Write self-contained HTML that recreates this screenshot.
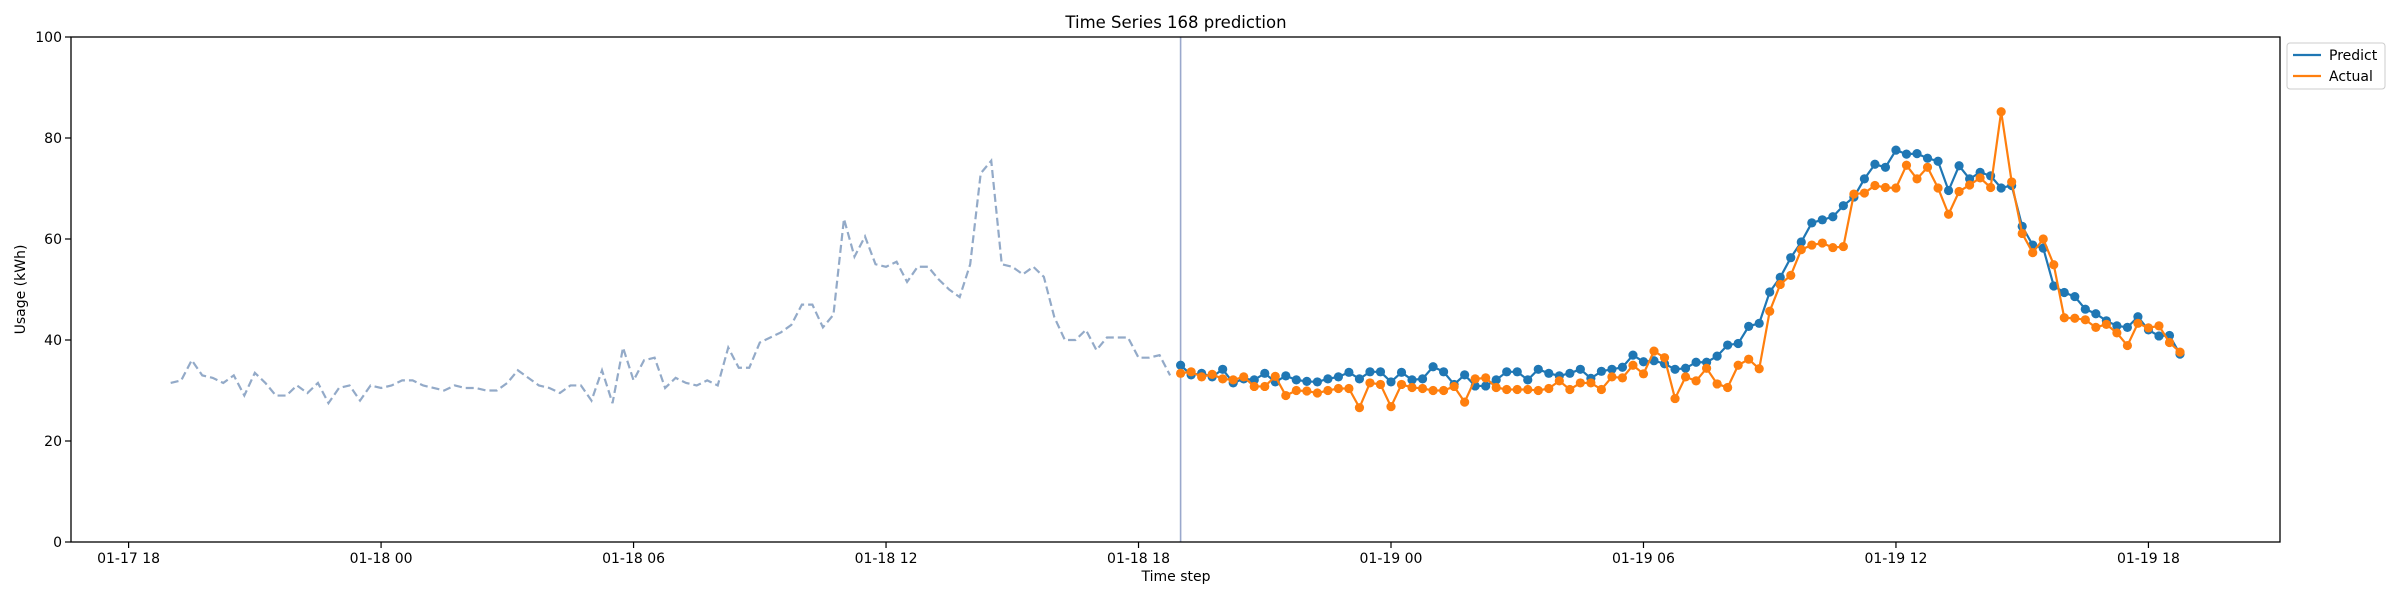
<!DOCTYPE html>
<html><head><meta charset="utf-8"><style>
html,body{margin:0;padding:0;background:#fff;}
svg{display:block;font-family:"DejaVu Sans","Liberation Sans",sans-serif;}
</style></head><body>
<svg id="chart" width="2400" height="600" viewBox="0 0 2400 600" xmlns="http://www.w3.org/2000/svg">
<rect width="2400" height="600" fill="#fff"/>
<text x="1176" y="28" font-size="16.5" text-anchor="middle" fill="#000">Time Series 168 prediction</text>
<g id="grid"></g>
<g id="marks"></g>
<rect x="71" y="37" width="2209" height="505" fill="none" stroke="#000" stroke-width="1.3"/>
<text transform="translate(25,289.5) rotate(-90)" font-size="14" text-anchor="middle">Usage (kWh)</text>
<text x="1176" y="581" font-size="14" text-anchor="middle">Time step</text>
<g>
<rect x="2287" y="43" width="98" height="46" rx="3" fill="#fff" stroke="#ccc"/>
<line x1="2293" y1="55" x2="2321" y2="55" stroke="#1f77b4" stroke-width="2.3"/>
<text x="2329" y="60" font-size="14">Predict</text>
<line x1="2293" y1="76" x2="2321" y2="76" stroke="#ff7f0e" stroke-width="2.3"/>
<text x="2329" y="81" font-size="14">Actual</text>
</g>
</svg>
<script>
const yTicks = [0, 20, 40, 60, 80, 100];
const xTickLabels = ["01-17 18","01-18 00","01-18 06","01-18 12","01-18 18","01-19 00","01-19 06","01-19 12","01-19 18"];
const xTickHours = [0, 6, 12, 18, 24, 30, 36, 42, 48];
const historyStartHour = 1;
const predictStartHour = 25;
const stepHours = 0.25;
const history = [31.5,32,36,33,32.5,31.5,33,29,33.5,31.5,29,29,31,29.5,31.5,27.5,30.5,31,28,31,30.5,31,32,32,31,30.5,30,31,30.5,30.5,30,30,31.5,34,32.5,31,30.5,29.5,31,31,28,34,27.5,38.5,32,36,36.5,30.5,32.5,31.5,31,32,31,38.5,34.5,34.5,39.5,40.5,41.5,43,47,47,42.5,45,64,56.5,60.5,55,54.5,55.5,51.5,54.5,54.5,52,50,48.5,55,73,75.5,55,54.5,53,54.5,52.5,44.5,40,40,42,38,40.5,40.5,40.5,36.5,36.5,37,33];
const predict = [35.0,33.1,33.4,32.7,34.2,31.5,32.3,32.1,33.4,31.7,32.9,32.1,31.8,31.7,32.3,32.7,33.6,32.3,33.7,33.7,31.7,33.6,32.1,32.3,34.7,33.7,31.2,33.1,30.9,30.9,32.1,33.7,33.7,32.1,34.2,33.4,32.9,33.4,34.2,32.4,33.8,34.2,34.6,37.0,35.7,35.9,35.3,34.2,34.4,35.6,35.6,36.8,39.0,39.3,42.7,43.3,49.5,52.4,56.3,59.4,63.2,63.8,64.4,66.6,68.3,71.9,74.8,74.2,77.6,76.8,76.9,76.0,75.4,69.6,74.5,71.9,73.2,72.5,70.1,70.6,62.5,58.8,58.2,50.7,49.4,48.6,46.1,45.2,43.8,42.8,42.5,44.6,42.0,40.8,40.9,37.2];
const actual = [33.4,33.7,32.7,33.2,32.3,32.1,32.7,30.8,30.8,32.8,29.0,30.0,29.9,29.5,30.0,30.4,30.4,26.6,31.5,31.2,26.8,31.2,30.6,30.4,30.0,30.0,30.8,27.7,32.3,32.5,30.6,30.2,30.2,30.2,30.0,30.4,31.9,30.2,31.5,31.5,30.2,32.7,32.5,35.0,33.3,37.8,36.5,28.4,32.7,31.9,34.4,31.3,30.6,35.0,36.2,34.3,45.7,51.0,52.8,57.9,58.8,59.2,58.3,58.5,68.9,69.1,70.6,70.2,70.1,74.6,71.9,74.2,70.1,64.9,69.4,70.7,72.1,70.2,85.2,71.3,61.1,57.3,60.0,54.9,44.4,44.3,44.0,42.5,43.1,41.4,38.9,43.3,42.4,42.8,39.5,37.6];

const NS = "http://www.w3.org/2000/svg";
const X = h => 128.6 + 42.08 * h;
const Y = v => 542 - 5.05 * v;
function mk(tag, attrs, parent) {
  const e = document.createElementNS(NS, tag);
  for (const k in attrs) e.setAttribute(k, attrs[k]);
  parent.appendChild(e);
  return e;
}
const grid = document.getElementById('grid');
const marks = document.getElementById('marks');

yTicks.forEach(v => {
  const t = mk('line', {x1: 71, x2: 65, y1: Y(v), y2: Y(v), stroke: '#000', 'stroke-width': 1.2}, grid);
  
  
  const l = mk('text', {x: 62, y: Y(v) + 5, 'font-size': 14, 'text-anchor': 'end'}, grid);
  l.textContent = v;
  
  
});
xTickHours.forEach((h, i) => {
  const t = mk('line', {x1: X(h), x2: X(h), y1: 542, y2: 548, stroke: '#000', 'stroke-width': 1.2}, grid);
  
  
  const l = mk('text', {x: X(h), y: 563, 'font-size': 14, 'text-anchor': 'middle'}, grid);
  l.textContent = xTickLabels[i];
  
  
});

function pts(arr, start) {
  return arr.map((v, i) => X(start + i * stepHours).toFixed(2) + ',' + Y(v).toFixed(2)).join(' ');
}
const hist = mk('polyline', {points: pts(history, historyStartHour), fill: 'none', stroke: '#93aac8', 'stroke-width': 2.2, 'stroke-dasharray': '8,4'}, marks);



const vl = mk('line', {x1: X(predictStartHour), x2: X(predictStartHour), y1: 37, y2: 542, stroke: '#9aa8cc', 'stroke-width': 1.6}, marks);



function series(arr, color, name) {
  const pl = mk('polyline', {points: pts(arr, predictStartHour), fill: 'none', stroke: color, 'stroke-width': 2.2}, marks);
  
  
  arr.forEach((v, i) => {
    const c = mk('circle', {cx: X(predictStartHour + i * stepHours), cy: Y(v), r: 4.6, fill: color}, marks);
    
    
  });
}
series(predict, '#1f77b4', 'predict');
series(actual, '#ff7f0e', 'actual');
</script>
</body></html>
